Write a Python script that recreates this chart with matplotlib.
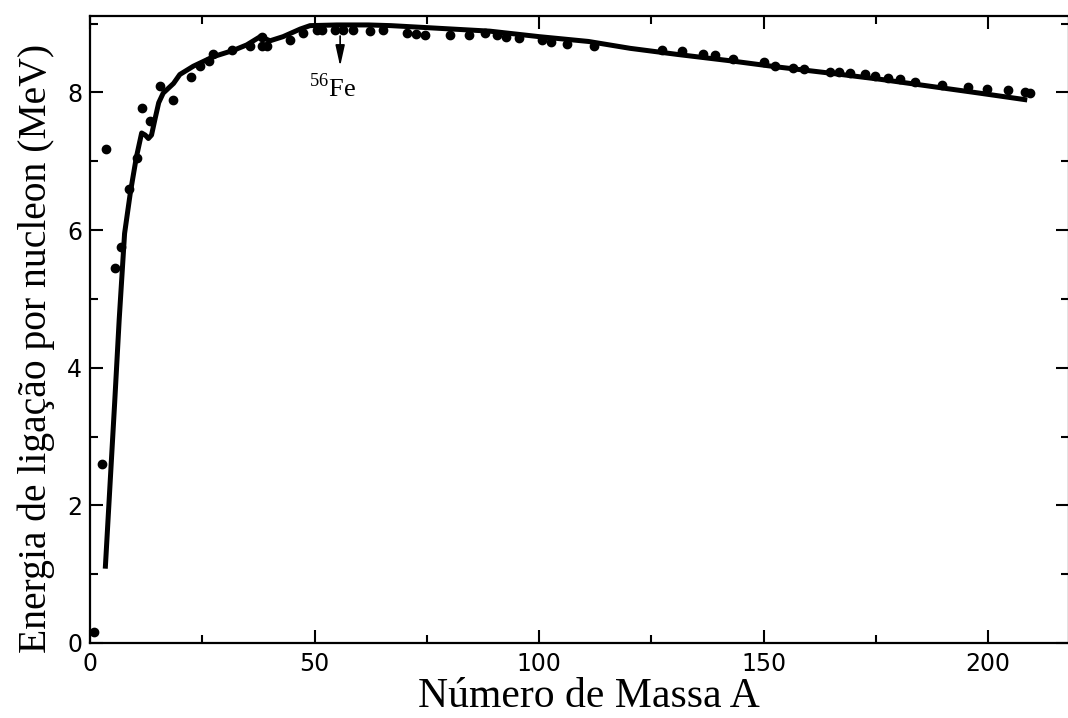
import matplotlib
matplotlib.use("Agg")
import matplotlib.pyplot as plt
from matplotlib.ticker import MultipleLocator

# --- data ---
curve_A = [3.4, 4.5, 5.5, 6.5, 7.7, 9.0, 10.3, 11.5, 12.3, 13.0, 13.7, 14.5, 15.3,
           16.3, 18.6, 20.0, 23.0, 27.5, 31.9, 34.9, 37.9, 40.1, 43.0, 46.8, 49.0,
           55, 62, 67, 78, 89, 100, 111, 120.3, 131, 142.5, 153, 164.8, 176, 187,
           198, 208.7]
curve_E = [1.08, 2.35, 3.5, 4.7, 5.95, 6.55, 7.05, 7.41, 7.38, 7.33, 7.38, 7.62, 7.85,
           7.99, 8.13, 8.26, 8.38, 8.52, 8.61, 8.69, 8.81, 8.75, 8.81, 8.92, 8.97,
           8.98, 8.98, 8.97, 8.93, 8.89, 8.81, 8.74, 8.64, 8.55, 8.46, 8.37, 8.28, 8.19,
           8.09, 7.99, 7.89]

points_A = [0.8, 2.6, 3.5, 5.6, 6.8, 8.6, 10.4, 11.6, 13.4, 15.5, 18.5, 22.6, 24.5,
            26.5, 27.5, 31.6, 35.6, 38.3, 38.4, 39.5, 44.5, 47.5, 50.5, 51.6, 54.5,
            56.4, 58.6, 62.4, 65.2, 70.5, 72.7, 74.6, 80.2, 84.3, 88.0, 90.6, 92.6,
            95.6, 100.6, 102.6, 106.2, 112.3, 127.3, 131.8, 136.6, 139.2, 143.2,
            150.0, 152.6, 156.6, 158.9, 164.8, 166.7, 169.3, 172.6, 174.8, 177.8,
            180.4, 183.7, 189.7, 195.6, 199.7, 204.5, 208.2, 209.4]
points_E = [0.16, 2.6, 7.18, 5.45, 5.75, 6.6, 7.05, 7.78, 7.59, 8.09, 7.89, 8.23, 8.39,
            8.46, 8.56, 8.61, 8.67, 8.80, 8.68, 8.67, 8.76, 8.86, 8.90, 8.91, 8.91,
            8.91, 8.91, 8.89, 8.90, 8.86, 8.85, 8.84, 8.84, 8.84, 8.87, 8.84, 8.80,
            8.79, 8.76, 8.73, 8.71, 8.68, 8.62, 8.60, 8.56, 8.55, 8.49,
            8.44, 8.39, 8.35, 8.34, 8.30, 8.29, 8.28, 8.27, 8.24, 8.21,
            8.19, 8.15, 8.11, 8.08, 8.05, 8.03, 8.01, 7.99]

fe_A, fe_top, fe_tip = 55.7, 8.82, 8.38

plt.rcParams['mathtext.fontset'] = 'custom'
plt.rcParams['mathtext.rm'] = 'Liberation Serif'

fig = plt.figure(figsize=(10.68, 7.18), dpi=100)
ax = fig.add_axes([90/1068, 75/718, 979/1068, 627/718])

ax.plot(curve_A, curve_E, color='black', lw=3.6, solid_joinstyle='round',
        solid_capstyle='butt', zorder=2)
ax.plot(points_A, points_E, 'o', color='black', ms=6, zorder=3)

ax.annotate('', xy=(fe_A, fe_tip), xytext=(fe_A, fe_top),
            arrowprops=dict(arrowstyle='-|>,head_length=0.9,head_width=0.2',
                            color='black', lw=1.2, mutation_scale=14,
                            shrinkA=0, shrinkB=0))
ax.text(48.8, 7.93, r'$^{\mathrm{56}}$Fe', fontsize=19, family='Liberation Serif',
        ha='left', va='baseline')

ax.set_xlim(0, 218)
ax.set_ylim(0, 9.11)
ax.xaxis.set_major_locator(MultipleLocator(50))
ax.xaxis.set_minor_locator(MultipleLocator(25))
ax.yaxis.set_major_locator(MultipleLocator(2))
ax.yaxis.set_minor_locator(MultipleLocator(1))

ax.tick_params(which='both', direction='in', top=True, right=True, width=1.5,
               labelsize=17, colors='black')
ax.tick_params(axis='x', which='major', length=9.5, pad=6.5)
ax.tick_params(axis='y', which='major', length=9.5, pad=5.5)
ax.tick_params(which='minor', length=5.5)
for lab in ax.get_xticklabels() + ax.get_yticklabels():
    lab.set_family('DejaVu Sans')

for s in ax.spines.values():
    s.set_linewidth(1.6)

ax.set_xlabel('Número de Massa A', fontsize=30, family='Liberation Serif')
ax.xaxis.label.set_va('baseline')
ax.xaxis.set_label_coords(0.51, -0.102)

ax.set_ylabel('Energia de ligação por nucleon (MeV)', fontsize=28.5,
              family='Liberation Serif')
ax.yaxis.set_label_coords(-0.036, 0.469)

fig.savefig('out.png', dpi=100, facecolor='white')
